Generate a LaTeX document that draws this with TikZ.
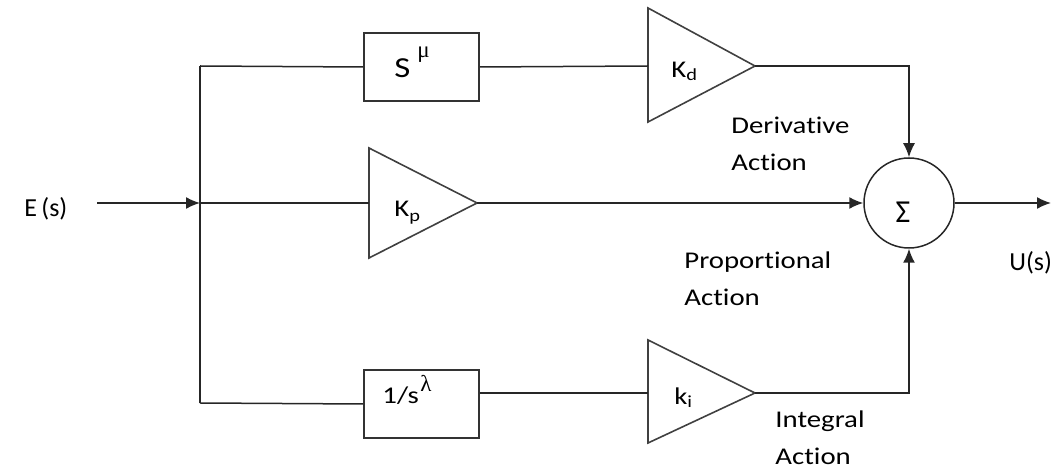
\documentclass[tikz,border=0pt]{standalone}
\usepackage{fontspec}
\setmainfont[FakeStretch=1.2, Ligatures={NoCommon,NoRequired,NoContextual}]{Carlito}
\newfontfamily\plain[Ligatures={NoCommon,NoRequired}]{Carlito}
\newfontfamily\grk{Liberation Serif}
\usetikzlibrary{arrows.meta}
\begin{document}
\begin{tikzpicture}[x=0.5pt,y=-0.5pt,
  line/.style={draw=black!85, line width=0.75pt},
  blk/.style={draw=black!80, line width=1pt, minimum width=57.5pt, minimum height=34pt, inner sep=0pt, anchor=north west},
  amp/.style={draw=black!75, line width=0.8pt, line join=miter},
  arr/.style={-{Latex[length=7pt,width=6pt]}},
  lbl/.style={anchor=base west, inner sep=0pt, font=\fontsize{12}{18.5}\selectfont, align=left},
  big/.style={anchor=base west, inner sep=0pt, font=\fontsize{13}{14}\plain},
  sub/.style={anchor=base west, inner sep=0pt, font=\fontsize{11.5}{12}\grk},
]
\useasboundingbox (0,0) rectangle (1051,475);

% blocks
\node[blk] (bd) at (363,32) {};
\node[blk] (bi) at (363,369) {};

% amplifier triangles
\coordinate (kdin) at (648,66);  \coordinate (kdout) at (755,66);
\coordinate (kpin) at (369,203); \coordinate (kpout) at (477,203);
\coordinate (kiin) at (648,393); \coordinate (kiout) at (755,393);
\draw[amp] (648,8) -- (kdout) -- (648,122) -- cycle;
\draw[amp] (369,148) -- (kpout) -- (369,258) -- cycle;
\draw[amp] (648,340) -- (kiout) -- (648,443) -- cycle;

% summing junction
\node[circle, draw=black!85, line width=0.75pt, minimum size=45pt, inner sep=0pt] (sum) at (909,203) {};
\node[inner sep=0pt, font=\fontsize{16}{16}\plain] (sig) at (903,212) {Σ};

% branch points and free ends
\coordinate (ein) at (97,203);
\coordinate (j) at (200,203);
\coordinate (jt) at (200,66);
\coordinate (jb) at (200,403);
\coordinate (uout) at (1051,203);

% connectors
\draw[line,arr] (ein) -- (j);
\draw[line] (jt) -- (jb);
\draw[line] (jt) -- (bd.west);
\draw[line] (bd.east) -- (kdin);
\draw[line,arr] (kdout) -| (sum.north);
\draw[line] (j) -- (kpin);
\draw[line,arr] (kpout) -- (sum.west);
\draw[line] (jb) -- (bi.west);
\draw[line] (kiin -| bi.east) -- (kiin);
\draw[line,arr] (kiout) -| (sum.south);
\draw[line,arr] (sum.east) -- (uout);

% block texts
\node[lbl, font=\fontsize{14.5}{15}\selectfont] (tsd) at (394,78) {S};
\node[sub] (tmu) at (417,58) {μ};
\node[lbl] (tsi) at (382,404) {1/s};
\node[sub] (tla) at (420,392) {λ};

% gains
\node[lbl] (tkd) at (671,78) {K\raisebox{-0.25ex}{\fontsize{8.5}{8}\selectfont d}};
\node[lbl] (tkp) at (394,217) {K\raisebox{-0.35ex}{\fontsize{8.5}{8}\selectfont p}};
\node[lbl] (tki) at (674,405) {k\raisebox{-0.25ex}{\fontsize{8.5}{8}\selectfont i}};

% action labels (anchor at the baseline of the last line)
\node[lbl] (ld) at (731,171) {Derivative\\Action};
\node[lbl] (lp) at (684,306) {Proportional\\Action};
\node[lbl] (li) at (775,465) {Integral\\Action};

% signals
\node[big] (es) at (24,217) {E\,(s)};
\node[big] (us) at (1009,271) {U(s)};
\end{tikzpicture}
\end{document}
